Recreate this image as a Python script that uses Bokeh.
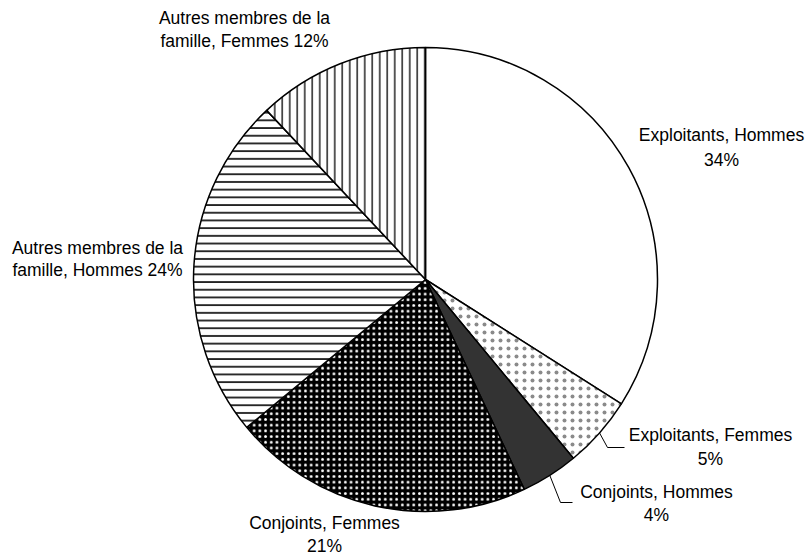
import math
from bokeh.plotting import figure
from bokeh.models import Range1d
from bokeh.embed import file_html
from bokeh.resources import INLINE
from bokeh.core.properties import value

# ---- data ----
categories = ["Exploitants, Hommes", "Exploitants, Femmes", "Conjoints, Hommes",
              "Conjoints, Femmes", "Autres membres de la famille, Hommes",
              "Autres membres de la famille, Femmes"]
shares = [34, 5, 4, 21, 24, 12]
label_line1 = ["Exploitants, Hommes", "Exploitants, Femmes", "Conjoints, Hommes",
               "Conjoints, Femmes", "Autres membres de la", "Autres membres de la"]
label_prefix2 = ["", "", "", "", "famille, Hommes ", "famille, Femmes "]

# ---- styles ----
fills = ["white", "white", "#333333", "black", "white", "white"]
hatches = [None, "dot", None, "dot", "horizontal_line", "vertical_line"]
hatch_colors = ["black", "#8a8a8a", "black", "white", "black", "#303030"]
hatch_scales = [8, 8, 8, 5.7, 7.7, 7.5]
hatch_weights = [1, 1.0, 1, 1.3, 1.6, 1.6]

# layout (image pixel coords)
cx, cy, R = 425, 279, 232
lab_x = [721, 710, 656, 324, 97, 244]
lab_y1 = [134, 434, 491, 522, 247, 17]
lab_y2 = [159, 458, 514, 545, 269, 40]

W, H = 809, 555
p = figure(width=W, height=H, output_backend="svg", toolbar_location=None,
           x_range=Range1d(0, W), y_range=Range1d(-H, 0),
           x_axis_location=None, y_axis_location=None, min_border=0)
p.grid.visible = False
p.outline_line_color = None
p.background_fill_color = "white"

total = sum(shares)
cum = 0.0
mids = []
for i, s in enumerate(shares):
    a0 = math.pi / 2 - 2 * math.pi * cum / total
    a1 = math.pi / 2 - 2 * math.pi * (cum + s) / total
    mids.append(2 * math.pi * (cum + s / 2) / total)
    kw = dict(x=cx, y=-cy, radius=R, start_angle=a0, end_angle=a1, direction="clock",
              fill_color=fills[i], line_color="black", line_width=1.5)
    if hatches[i]:
        kw.update(hatch_pattern=hatches[i], hatch_color=hatch_colors[i],
                  hatch_scale=hatch_scales[i], hatch_weight=hatch_weights[i])
    p.wedge(**kw)
    cum += s

# leader lines for slices 1 and 2
elbows = {1: [(607, 447), (624, 447)], 2: [(560, 502), (572, 502)]}
for i, pts in elbows.items():
    sx = cx + R * math.sin(mids[i])
    sy = cy - R * math.cos(mids[i])
    xs = [sx] + [q[0] for q in pts]
    ys = [-sy] + [-q[1] for q in pts]
    p.line(xs, ys, line_color="black", line_width=1)

line2 = [label_prefix2[i] + f"{shares[i]}%" for i in range(len(shares))]
font = value("Liberation Sans")
p.text(x=lab_x, y=[-v for v in lab_y1], text=label_line1, text_align="center",
       text_baseline="middle", text_font=font, text_font_size="17.5px", text_color="black")
p.text(x=lab_x, y=[-v for v in lab_y2], text=line2, text_align="center",
       text_baseline="middle", text_font=font, text_font_size="17.5px", text_color="black")

open("out.html", "w").write(file_html(p, INLINE))
